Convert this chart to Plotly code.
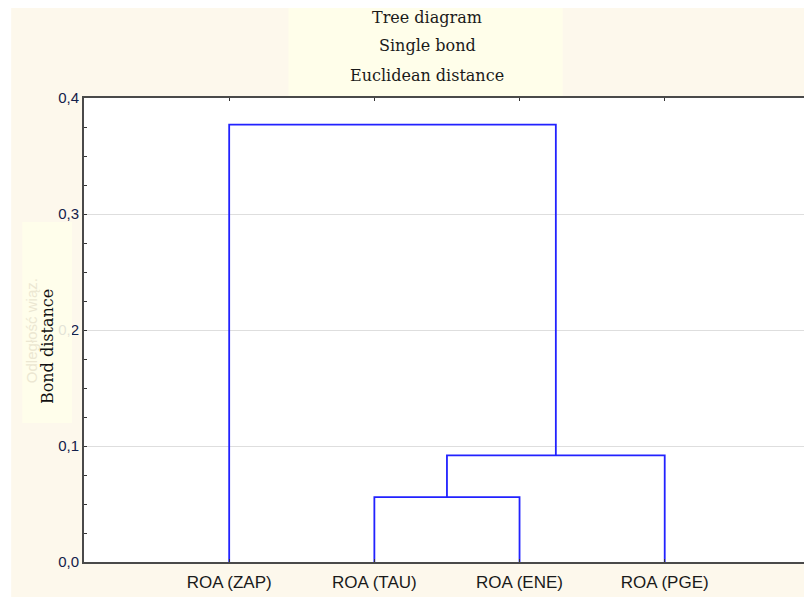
import plotly.graph_objects as go

# ---- data ----
leaves = ["ROA (ZAP)", "ROA (TAU)", "ROA (ENE)", "ROA (PGE)"]
leaf_pos = [1, 2, 3, 4]
# linkage: (left member, right member, height); members: leaf index or "c<k>" for k-th merge
merges = [(1, 2, 0.056), ("c0", 3, 0.092), (0, "c1", 0.377)]
y_tickvals = [0.0, 0.1, 0.2, 0.3, 0.4]
y_ticktext = ["0,0", "0,1", "0,2", "0,3", "0,4"]
title_lines = ["Tree diagram", "Single bond", "Euclidean distance"]
y_title = "Bond distance"
ghost_title = "Odległość wiąz."

# ---- build dendrogram segments ----
def member_xy(m, clusters):
    if isinstance(m, str):
        return clusters[int(m[1:])]
    return (leaf_pos[m], 0.0)

clusters = []
xs, ys = [], []
for a, b, h in merges:
    xa, ya = member_xy(a, clusters)
    xb, yb = member_xy(b, clusters)
    xs += [xa, xa, xb, xb, None]
    ys += [ya, h, h, yb, None]
    clusters.append(((xa + xb) / 2, h))

fig = go.Figure()
fig.add_trace(go.Scatter(x=xs, y=ys, mode="lines",
                         line=dict(color="#2222ff", width=1.8),
                         hoverinfo="skip", showlegend=False))

OFF = 8  # page body margin
W, H = 804, 593
L, R, T, B = 76, 3, 90, 39
PW, PH = W - L - R, H - T - B

def px(xp):  # page pixel -> paper x
    return (xp - OFF - L) / PW

def py(yp):  # page pixel -> paper y
    return (H - B - (yp - OFF)) / PH

cream = "#fdf8ec"
box = "#fffeea"

shapes = [
    # white outer strips
    dict(type="rect", xref="paper", yref="paper", x0=px(0), x1=px(11), y0=py(700), y1=py(0),
         fillcolor="white", line_width=0, layer="below"),
    dict(type="rect", xref="paper", yref="paper", x0=px(0), x1=px(900), y0=py(700), y1=py(597),
         fillcolor="white", line_width=0, layer="below"),
    # title box
    dict(type="rect", xref="paper", yref="paper", x0=px(289), x1=px(564), y0=py(97), y1=py(5),
         fillcolor=box, line_width=0, layer="below"),
    # y-title box (covers part of tick label)
    dict(type="rect", xref="paper", yref="paper", x0=px(22), x1=px(72), y0=py(423), y1=py(222),
         fillcolor=box, opacity=0.88, line_width=0, layer="above"),
]

annotations = []
for line, yc in zip(title_lines, [17, 45, 75]):
    annotations.append(dict(text=line, xref="paper", yref="paper", x=px(428), y=py(yc),
                            xanchor="center", yanchor="middle", showarrow=False,
                            font=dict(family="DejaVu Serif", size=16, color="#1a1a1a")))
annotations.append(dict(text=ghost_title, xref="paper", yref="paper", x=px(31), y=py(331),
                        xanchor="center", yanchor="middle", showarrow=False, textangle=-90,
                        font=dict(family="Liberation Sans", size=15, color="#ece7d2")))
annotations.append(dict(text=y_title, xref="paper", yref="paper", x=px(47), y=py(347),
                        xanchor="center", yanchor="middle", showarrow=False, textangle=-90,
                        font=dict(family="DejaVu Serif", size=16, color="#111111")))

fig.update_layout(
    width=W, height=H,
    margin=dict(l=L, r=R, t=T, b=B, pad=0),
    paper_bgcolor=cream, plot_bgcolor="white",
    shapes=shapes, annotations=annotations,
    showlegend=False,
)
fig.update_xaxes(range=[0, 4.98], tickvals=leaf_pos, ticktext=leaves,
                 showgrid=False, zeroline=False,
                 showline=True, linecolor="#4a4a4a", linewidth=2, mirror="ticks",
                 ticks="inside", ticklen=3, tickcolor="#333333", ticklabelstandoff=4,
                 tickfont=dict(family="Liberation Sans", size=17, color="#1a1a1a"))
fig.update_yaxes(range=[0, 0.4], tickvals=y_tickvals, ticktext=y_ticktext,
                 showgrid=True, gridcolor="#dedede", gridwidth=1, zeroline=False,
                 showline=True, linecolor="#4a4a4a", linewidth=2, mirror="ticks",
                 ticks="inside", ticklen=3, tickcolor="#333333",
                 minor=dict(dtick=0.025, ticks="inside", ticklen=3, tickcolor="#333333", showgrid=False),
                 tickfont=dict(family="Liberation Sans", size=15, color="#14204a"))

fig.write_html("out.html")
